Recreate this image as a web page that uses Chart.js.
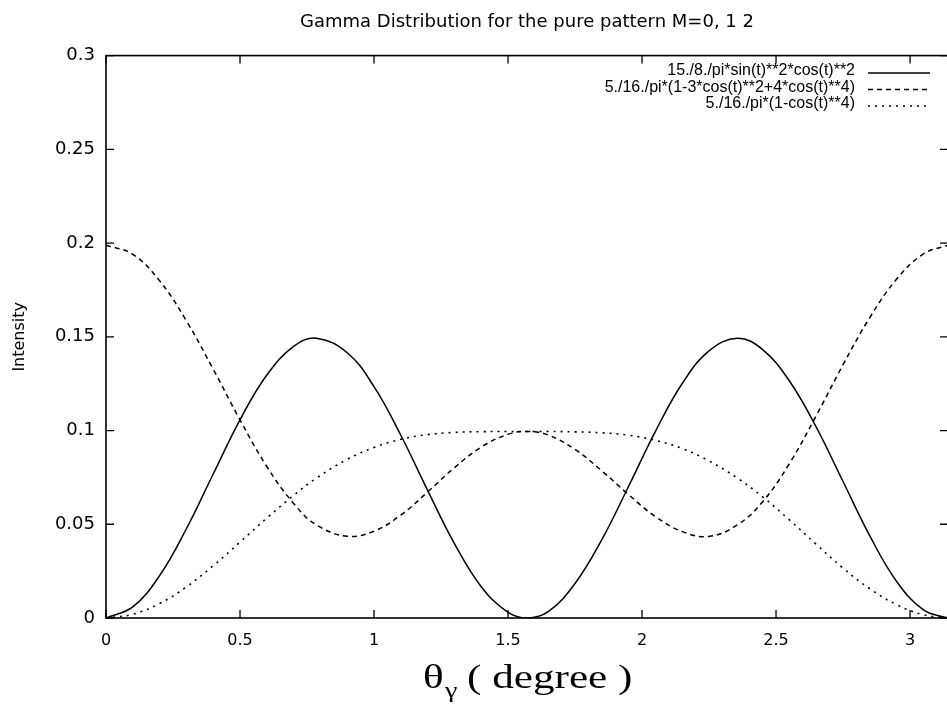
<!DOCTYPE html>
<html>
<head>
<meta charset="utf-8">
<script src="https://cdn.jsdelivr.net/npm/chart.js@4.4.1/dist/chart.umd.min.js"></script>
<style>
  html, body { margin: 0; padding: 0; background: #fff; overflow: hidden; }
  canvas { display: block; }
</style>
</head>
<body>
<canvas id="gammaChart" width="952" height="725"></canvas>
<script>
// values (theta in the x unit of the figure)
var theta = [0, 0.1, 0.2, 0.3, 0.4, 0.5, 0.6, 0.7, 0.785, 0.9, 1.0, 1.1, 1.2, 1.3, 1.4, 1.5, 1.571,
             1.65, 1.75, 1.85, 1.95, 2.05, 2.15, 2.25, 2.356, 2.45, 2.55, 2.65, 2.75, 2.85, 2.95, 3.05, 3.1416];
var solidVals = [0, 0.0059, 0.0226, 0.0476, 0.0768, 0.1057, 0.1296, 0.1449, 0.1492, 0.1415, 0.1234,
                 0.0975, 0.0681, 0.0397, 0.0167, 0.0030, 0,
                 0.0034, 0.0184, 0.0418, 0.0703, 0.0996, 0.1251, 0.1425, 0.1492, 0.1432, 0.1264,
                 0.1018, 0.0728, 0.0438, 0.0195, 0.0043, 0];
var dashedVals = [0.1989, 0.1940, 0.1799, 0.1585, 0.1327, 0.1057, 0.0808, 0.0611, 0.0497, 0.0436, 0.0463,
                  0.0549, 0.0672, 0.0802, 0.0912, 0.0980, 0.0995,
                  0.0976, 0.0899, 0.0785, 0.0658, 0.0541, 0.0461, 0.0435, 0.0497, 0.0620, 0.0824,
                  0.1079, 0.1351, 0.1603, 0.1808, 0.1942, 0.1989];
var dottedVals = [0, 0.0020, 0.0077, 0.0166, 0.0279, 0.0405, 0.0533, 0.0654, 0.0746, 0.0846, 0.0910,
                  0.0953, 0.0978, 0.0990, 0.0994, 0.0995, 0.0995,
                  0.0995, 0.0993, 0.0988, 0.0975, 0.0948, 0.0904, 0.0838, 0.0746, 0.0646, 0.0523,
                  0.0393, 0.0266, 0.0156, 0.0071, 0.0017, 0];

var seriesLabels = ['15./8./pi*sin(t)**2*cos(t)**2',
                    '5./16./pi*(1-3*cos(t)**2+4*cos(t)**4)',
                    '5./16./pi*(1-cos(t)**4)'];
var xTicks = [0, 0.5, 1, 1.5, 2, 2.5, 3];
var xTickLabels = ['0', '0.5', '1', '1.5', '2', '2.5', '3'];
var yTicks = [0, 0.05, 0.1, 0.15, 0.2, 0.25, 0.3];
var yTickLabels = ['0', '0.05', '0.1', '0.15', '0.2', '0.25', '0.3'];

function pairs(vals) {
  return theta.map(function (t, i) { return { x: t, y: vals[i] }; });
}

// box around the plot with inward ticks on all four sides, gnuplot style
var framePlugin = {
  id: 'frame',
  afterDatasetsDraw: function (chart) {
    var ctx = chart.ctx, a = chart.chartArea;
    var xs = chart.scales.x, ys = chart.scales.y;
    ctx.save();
    ctx.strokeStyle = '#000';
    ctx.lineWidth = 1.6;
    ctx.strokeRect(a.left, a.top, a.right - a.left, a.bottom - a.top);
    ctx.lineWidth = 1.3;
    ctx.beginPath();
    xTicks.forEach(function (v) {
      var px = xs.getPixelForValue(v);
      ctx.moveTo(px, a.bottom); ctx.lineTo(px, a.bottom - 8);
      ctx.moveTo(px, a.top); ctx.lineTo(px, a.top + 8);
    });
    yTicks.forEach(function (v) {
      var py = ys.getPixelForValue(v);
      ctx.moveTo(a.left, py); ctx.lineTo(a.left + 8, py);
      ctx.moveTo(a.right, py); ctx.lineTo(a.right - 8, py);
    });
    ctx.stroke();
    ctx.restore();
  }
};

// key in the upper right: right-aligned text, line sample after it
var keyPlugin = {
  id: 'key',
  afterDatasetsDraw: function (chart) {
    var ctx = chart.ctx;
    var rows = [72, 88.5, 105];
    ctx.save();
    ctx.font = '16px "Liberation Sans", Arial, sans-serif';
    ctx.textAlign = 'right';
    ctx.textBaseline = 'middle';
    ctx.fillStyle = '#000';
    chart.data.datasets.forEach(function (ds, i) {
      ctx.fillText(ds.label, 855, rows[i] - 1);
      ctx.strokeStyle = ds.borderColor;
      ctx.lineWidth = ds.borderWidth;
      ctx.setLineDash(ds.borderDash || []);
      ctx.beginPath();
      ctx.moveTo(868, rows[i] + 1);
      ctx.lineTo(930, rows[i] + 1);
      ctx.stroke();
    });
    ctx.restore();
  }
};

// x axis title with the gamma subscript
var xTitlePlugin = {
  id: 'xTitle',
  afterDraw: function (chart) {
    var ctx = chart.ctx;
    ctx.save();
    ctx.fillStyle = '#000';
    ctx.textBaseline = 'alphabetic';
    ctx.translate(423, 688);
    ctx.scale(1.27, 1);
    ctx.font = '34px "Liberation Serif", "Times New Roman", serif';
    ctx.fillText('\u03B8', 0, 0);
    var w = ctx.measureText('\u03B8').width;
    ctx.font = '22px "Liberation Serif", "Times New Roman", serif';
    ctx.fillText('\u03B3', w + 1, 9);
    ctx.font = '34px "Liberation Serif", "Times New Roman", serif';
    ctx.fillText('( degree )', (467 - 423) / 1.27, 0);
    ctx.restore();
  }
};

var ctx1 = document.getElementById('gammaChart').getContext('2d');
var gammaChart = new Chart(ctx1, {
  type: 'line',
  data: {
    datasets: [{
      label: seriesLabels[0],
      data: pairs(solidVals),
      borderColor: '#000',
      borderWidth: 1.5,
      borderDash: []
    }, {
      label: seriesLabels[1],
      data: pairs(dashedVals),
      borderColor: '#000',
      borderWidth: 1.5,
      borderDash: [5, 4]
    }, {
      label: seriesLabels[2],
      data: pairs(dottedVals),
      borderColor: '#000',
      borderWidth: 1.6,
      borderDash: [2, 5]
    }]
  },
  options: {
    responsive: false,
    animation: false,
    layout: { padding: { left: 0, right: 4, top: 0, bottom: 0 } },
    elements: {
      point: { radius: 0 },
      line: { fill: false, tension: 0.4 }
    },
    plugins: {
      legend: { display: false },
      tooltip: { enabled: false },
      title: {
        display: true,
        fullSize: false,
        text: 'Gamma Distribution for the pure pattern M=0, 1 2',
        color: '#000',
        font: { family: '"DejaVu Sans", sans-serif', size: 18, weight: 'normal' },
        padding: { top: 12, bottom: 22 }
      }
    },
    scales: {
      x: {
        type: 'linear',
        min: 0,
        max: 3.1416,
        grid: { display: false, drawTicks: false },
        border: { display: false },
        afterBuildTicks: function (scale) {
          scale.ticks = xTicks.map(function (v) { return { value: v }; });
        },
        afterFit: function (scale) { scale.height = 107; },
        ticks: {
          color: '#000',
          padding: 13,
          maxRotation: 0,
          font: { family: '"DejaVu Sans", sans-serif', size: 16 },
          callback: function (value, index) { return xTickLabels[index]; }
        },
        title: { display: false }
      },
      y: {
        type: 'linear',
        min: 0,
        max: 0.3,
        grid: { display: false, drawTicks: false },
        border: { display: false },
        afterBuildTicks: function (scale) {
          scale.ticks = yTicks.map(function (v) { return { value: v }; });
        },
        afterFit: function (scale) { scale.width = 106; },
        ticks: {
          color: '#000',
          padding: 11,
          font: { family: '"DejaVu Sans", sans-serif', size: 18 },
          callback: function (value, index) { return yTickLabels[index]; }
        },
        title: {
          display: true,
          text: 'Intensity',
          color: '#000',
          font: { family: '"DejaVu Sans", sans-serif', size: 16 },
          padding: { top: 10, bottom: 0 }
        }
      }
    }
  },
  plugins: [framePlugin, keyPlugin, xTitlePlugin]
});
</script>
</body>
</html>
